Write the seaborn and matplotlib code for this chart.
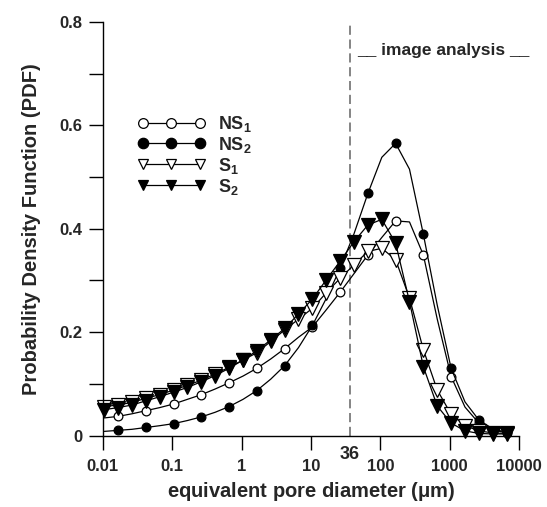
import matplotlib
matplotlib.use("Agg")
import matplotlib.pyplot as plt
from matplotlib.lines import Line2D
from matplotlib.ticker import FixedLocator
import pandas as pd
import seaborn as sns

# pore diameters (um), 0.2 decade bins
diameter = [0.0105, 0.0166, 0.0263, 0.0417, 0.0661, 0.105, 0.166, 0.263, 0.417, 0.661,
            1.05, 1.66, 2.63, 4.17, 6.61, 10.5, 16.6, 26.3, 41.7, 66.1,
            105, 166, 263, 417, 661, 1047, 1660, 2630, 4169, 6607]

ns1 = [0.034, 0.037, 0.042, 0.048, 0.054, 0.061, 0.070, 0.079, 0.090, 0.102,
       0.115, 0.130, 0.148, 0.168, 0.190, 0.210, 0.243, 0.277, 0.313, 0.349,
       0.383, 0.415, 0.413, 0.349, 0.225, 0.114, 0.055, 0.024, 0.011, 0.005]
ns2 = [0.008, 0.010, 0.012, 0.0155, 0.019, 0.023, 0.029, 0.036, 0.045, 0.056,
       0.070, 0.087, 0.109, 0.135, 0.170, 0.213, 0.265, 0.323, 0.390, 0.468,
       0.538, 0.565, 0.515, 0.389, 0.252, 0.130, 0.065, 0.030, 0.013, 0.006]
s1 = [0.056, 0.059, 0.064, 0.072, 0.079, 0.088, 0.097, 0.107, 0.119, 0.132,
      0.146, 0.160, 0.182, 0.204, 0.225, 0.246, 0.276, 0.304, 0.330, 0.356,
      0.362, 0.340, 0.266, 0.166, 0.088, 0.041, 0.019, 0.009, 0.005, 0.004]
s2 = [0.050, 0.054, 0.059, 0.067, 0.075, 0.084, 0.093, 0.104, 0.116, 0.130,
      0.146, 0.164, 0.185, 0.207, 0.235, 0.264, 0.301, 0.337, 0.375, 0.407,
      0.418, 0.372, 0.259, 0.133, 0.057, 0.024, 0.009, 0.004, 0.003, 0.003]

xticks = [0.01, 0.1, 1, 10, 100, 1000, 10000]
xtick_labels = ["0.01", "0.1", "1", "10", "100", "1000", "10000"]
yticks = [0, 0.2, 0.4, 0.6, 0.8]
ytick_labels = ["0", "0.2", "0.4", "0.6", "0.8"]
threshold = 36

df = pd.DataFrame({"d": diameter, "NS1": ns1, "NS2": ns2, "S1": s1, "S2": s2})

sns.set_style("ticks")
plt.rcParams["font.family"] = ["Liberation Sans", "DejaVu Sans"]
plt.rcParams["font.weight"] = "bold"
plt.rcParams["mathtext.fontset"] = "custom"
plt.rcParams["mathtext.rm"] = "Liberation Sans:bold"
plt.rcParams["mathtext.bf"] = "Liberation Sans:bold"
plt.rcParams["mathtext.it"] = "Liberation Sans:bold"

fig = plt.figure(figsize=(5.47, 5.07), dpi=100)
ax = fig.add_axes([0.188, 0.141, 0.761, 0.816])

styles = {
    "NS1": dict(marker="o", ms=6.3, mfc="white", markevery=(1, 2)),
    "NS2": dict(marker="o", ms=6.3, mfc="black", markevery=(1, 2)),
    "S1": dict(marker="v", ms=9.5, mfc="white", markevery=1),
    "S2": dict(marker="v", ms=9.5, mfc="black", markevery=1),
}
for name, st in styles.items():
    sns.lineplot(data=df, x="d", y=name, ax=ax, color="black", lw=0.9,
                 mec="black", mew=0.9, clip_on=False, legend=False, **st)

ax.axvline(threshold, ymin=0, ymax=1, color="#707070", lw=1.2, ls=(0, (5.5, 2.8)), zorder=0)

ax.set_xscale("log")
ax.set_xlim(0.01, 10000)
ax.set_ylim(0, 0.8)
ax.set_xticks(xticks)
ax.set_xticklabels(xtick_labels)
ax.xaxis.set_minor_locator(FixedLocator([]))
ax.set_yticks(yticks)
ax.set_yticklabels(ytick_labels)
ax.yaxis.set_minor_locator(FixedLocator([0.1, 0.3, 0.5, 0.7]))
ax.tick_params(which="both", direction="out", length=10, width=1, color="black",
               labelsize=12)
ax.tick_params(axis="x", pad=7)
ax.tick_params(axis="y", pad=5)
for lab in ax.get_xticklabels() + ax.get_yticklabels():
    lab.set_fontweight("bold")
for sp in ["left", "bottom"]:
    ax.spines[sp].set_linewidth(1)
    ax.spines[sp].set_color("black")
sns.despine(ax=ax)

ax.text(threshold, -0.036, "36", ha="center", va="center", fontsize=13,
        fontweight="bold", clip_on=False)
ax.text(46, 0.745, "__ image analysis __", ha="left", va="center",
        fontsize=12.5, fontweight="bold")

ax.set_xlabel(r"equivalent pore diameter ($\mu$m)", fontsize=14.5, fontweight="bold", labelpad=4)
ax.set_ylabel("Probability Density Function (PDF)", fontsize=14.5, fontweight="bold", labelpad=13)

labels = {"NS1": r"NS$_1$", "NS2": r"NS$_2$", "S1": r"S$_1$", "S2": r"S$_2$"}
leg_ms = {"NS1": 7, "NS2": 7.5, "S1": 7.5, "S2": 7.5}
handles = []
for name, st in styles.items():
    handles.append(Line2D([], [], color="black", lw=0.9, marker=st["marker"], ms=leg_ms[name],
                          mfc=st["mfc"], mec="black", mew=0.9, label=labels[name]))
ax.legend(handles=handles, loc="upper left", bbox_to_anchor=(0.065, 0.795), frameon=False,
          numpoints=3, handlelength=3.8, handletextpad=0.7, labelspacing=0.05,
          borderaxespad=0, prop={"size": 13, "weight": "bold"})

fig.savefig("out.png", dpi=100)
